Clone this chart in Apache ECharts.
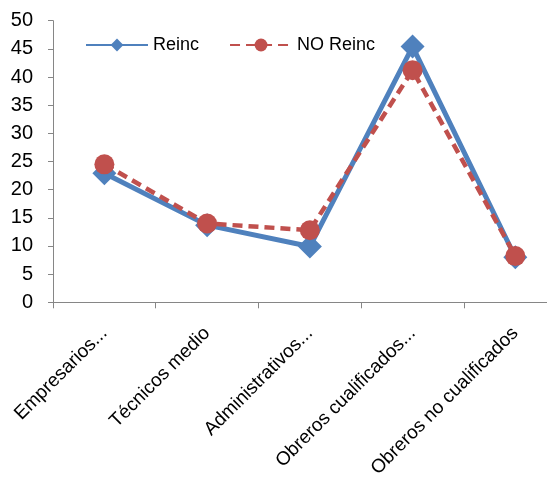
<!DOCTYPE html>
<html><head><meta charset="utf-8">
<script src="https://cdn.jsdelivr.net/npm/echarts@6/dist/echarts.min.js"></script>
<style>html,body{margin:0;padding:0;background:#fff}#c{width:547px;height:483px}</style>
</head><body><div id="c"></div>
<script>
const categories = ['Empresarios...', 'Técnicos medio', 'Administrativos...', 'Obreros cualificados...', 'Obreros no cualificados'];
const reinc = [22.9, 13.7, 9.9, 45.4, 8.0];
const noReinc = [24.5, 14.0, 12.8, 41.2, 8.2];
const yTicks = {min: 0, max: 50, interval: 5};
const FONT = 'Liberation Sans';
const chart = echarts.init(document.getElementById('c'));
chart.setOption({
  animation: false,
  textStyle: {fontFamily: FONT},
  legend: {
    left: 80, top: 31,
    itemWidth: 62, itemHeight: 16, itemGap: 30,
    textStyle: {fontFamily: FONT, fontSize: 18, color: '#000'},
    data: ['Reinc', 'NO Reinc']
  },
  grid: {left: 53, top: 20.7, right: -19.7, bottom: 180.7, containLabel: false, outerBoundsMode: 'none'},
  xAxis: {
    type: 'category', data: categories, boundaryGap: true,
    axisLine: {lineStyle: {color: '#868686', width: 1}},
    axisTick: {show: true, length: 6, lineStyle: {color: '#868686'}},
    axisLabel: {rotate: 45, interval: 0, margin: 28, fontSize: 19, color: '#000', fontFamily: FONT},
    splitLine: {show: false}
  },
  yAxis: {
    type: 'value', min: yTicks.min, max: yTicks.max, interval: yTicks.interval,
    axisLine: {show: true, lineStyle: {color: '#868686', width: 1}},
    axisTick: {show: true, length: 5, lineStyle: {color: '#868686'}},
    axisLabel: {margin: 20, fontSize: 20, color: '#000', fontFamily: FONT},
    splitLine: {show: false}
  },
  series: [
    {name: 'Reinc', type: 'line', data: reinc, symbol: 'diamond', symbolSize: 24,
     lineStyle: {color: '#4F81BD', width: 5}, itemStyle: {color: '#4F81BD'}, z: 2},
    {name: 'NO Reinc', type: 'line', data: noReinc, symbol: 'circle', symbolSize: 20,
     lineStyle: {color: '#C0504D', width: 4.5, type: [10, 6]}, itemStyle: {color: '#C0504D'}, z: 3}
  ]
});
</script></body></html>
